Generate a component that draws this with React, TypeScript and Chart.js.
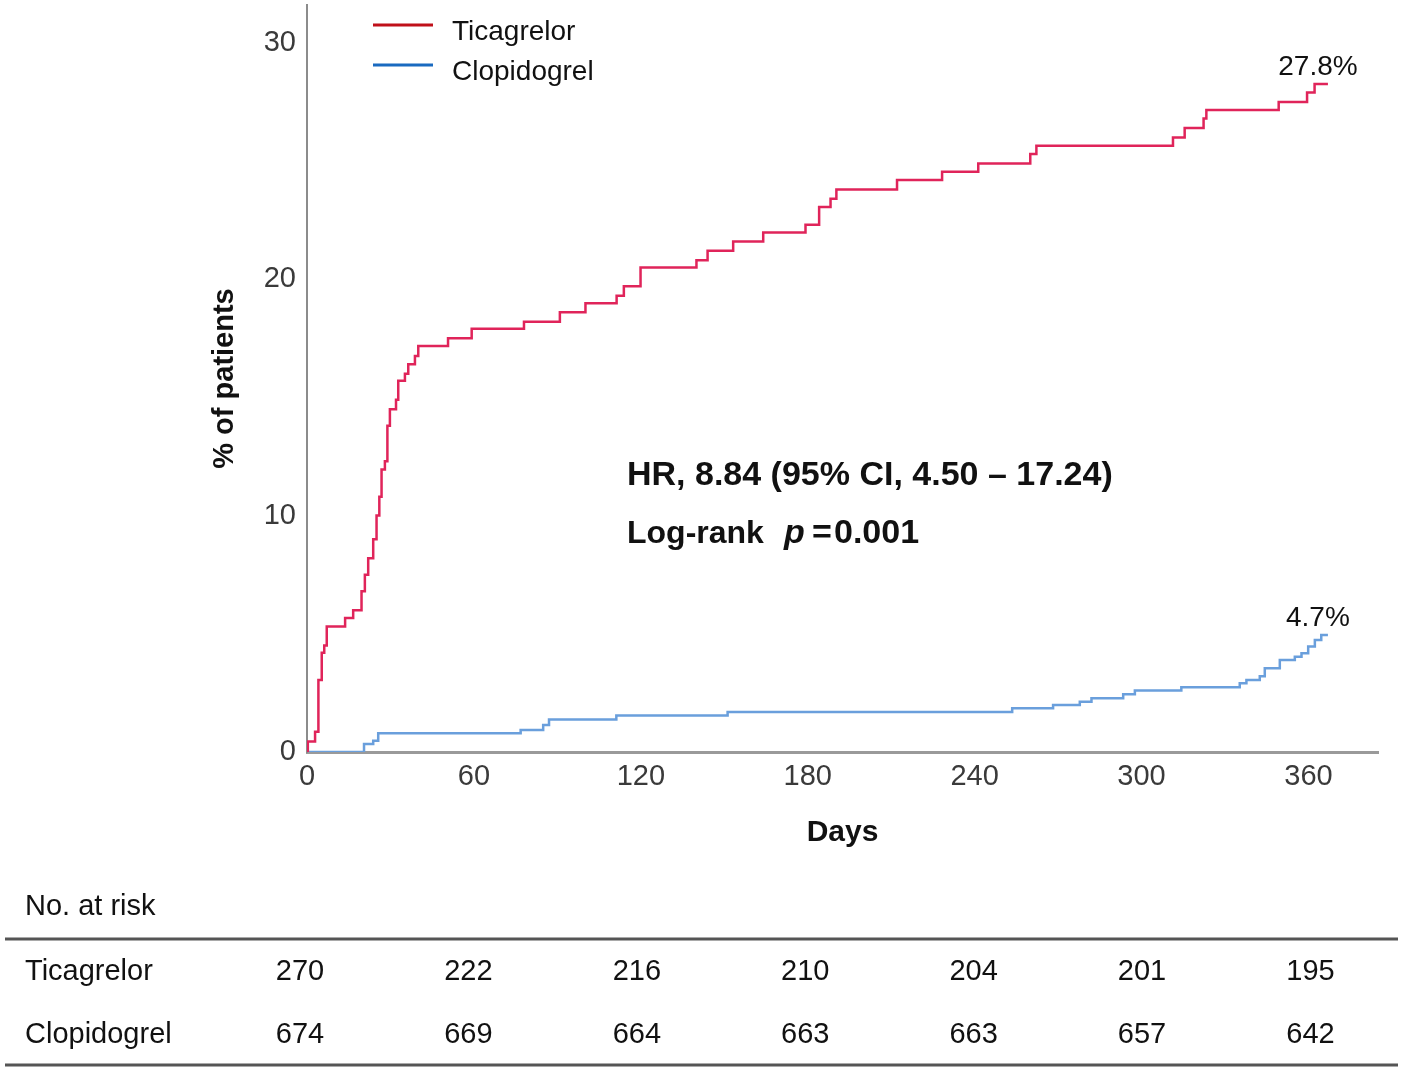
import { useEffect, useRef } from "react";
import { Chart, registerables, type ChartConfiguration, type Plugin } from "chart.js";

Chart.register(...registerables);

// Kaplan-Meier style cumulative incidence
const ticaDays = [
  0, 0.3, 2.9, 4.1, 5.3, 6.2, 7.1, 13.7, 16.6, 19.6, 20.8, 22, 23.8, 25, 26, 26.8, 28, 28.9, 29.8, 32,
  32.8, 35.2, 36.4, 38.8, 40, 50.7, 59.2, 78, 90.9, 100.1, 111.3, 113.9, 119.9, 140, 144, 153.2, 164,
  179.2, 184.1, 188.2, 190.3, 212.1, 228.3, 241.3, 260, 262.2, 311.3, 315.5, 322.3, 323.3, 349.3,
  359.5, 362.2, 367,
];
const ticaPct = [
  0, 0.44, 0.86, 3.05, 4.2, 4.5, 5.31, 5.67, 6.0, 6.8, 7.5, 8.2, 9.0, 10.0, 10.8, 11.95, 12.3, 13.8,
  14.5, 14.9, 15.7, 16.0, 16.4, 16.75, 17.17, 17.5, 17.9, 18.2, 18.6, 18.98, 19.3, 19.7, 20.5, 20.8,
  21.2, 21.6, 21.98, 22.3, 23.06, 23.4, 23.8, 24.2, 24.55, 24.9, 25.3, 25.65, 26.0, 26.4, 26.8, 27.16,
  27.5, 27.9, 28.26, 28.26,
];
const clopiDays = [
  0, 20.5, 23.8, 25.6, 76.8, 84.9, 87, 111.2, 151.2, 253.5, 268.2, 277.8, 282, 293.4, 297.6, 314.3,
  335.3, 337.7, 342.5, 344.3, 349.7, 355.1, 357.5, 359.9, 362.3, 364.6, 367,
];
const clopiPct = [
  0, 0.34, 0.48, 0.79, 0.93, 1.14, 1.38, 1.54, 1.69, 1.85, 1.99, 2.13, 2.27, 2.44, 2.6, 2.74, 2.91,
  3.05, 3.2, 3.54, 3.89, 4.03, 4.18, 4.46, 4.74, 4.95, 4.95,
];

const seriesNames = ["Ticagrelor", "Clopidogrel"];
const endLabels = ["27.8%", "4.7%"];
const riskDays = [0, 60, 120, 180, 240, 300, 360];
const ticaRisk = [270, 222, 216, 210, 204, 201, 195];
const clopiRisk = [674, 669, 664, 663, 663, 657, 642];

const FONT = '"Liberation Sans", Arial, Helvetica, sans-serif';
const curveColors = ["#e0245a", "#6a9fdc"];
const legendColors = ["#c0101a", "#1a6ac0"];

const overlay: Plugin<"line"> = {
  id: "kmOverlay",
  afterDraw(chart) {
    const { ctx } = chart;
    const xs = chart.scales.x;
    const ys = chart.scales.y;
    ctx.save();

    // legend inside the plot
    ctx.lineWidth = 3;
    ctx.font = `28px ${FONT}`;
    ctx.fillStyle = "#111";
    ctx.textBaseline = "alphabetic";
    ctx.textAlign = "left";
    const legY = [25, 65];
    seriesNames.forEach((name, i) => {
      ctx.strokeStyle = legendColors[i];
      ctx.beginPath();
      ctx.moveTo(373, legY[i]);
      ctx.lineTo(433, legY[i]);
      ctx.stroke();
      ctx.fillText(name, 452, legY[i] + 15);
    });

    // end-of-curve labels
    ctx.font = `28px ${FONT}`;
    ctx.textAlign = "center";
    ctx.textBaseline = "middle";
    const ends = [
      [ticaDays[ticaDays.length - 1], ticaPct[ticaPct.length - 1]],
      [clopiDays[clopiDays.length - 1], clopiPct[clopiPct.length - 1]],
    ];
    ends.forEach(([d, p], i) => {
      ctx.fillText(endLabels[i], xs.getPixelForValue(d) - 10, ys.getPixelForValue(p) - 17);
    });

    // statistics
    ctx.textAlign = "left";
    ctx.textBaseline = "alphabetic";
    ctx.font = `bold 34px ${FONT}`;
    ctx.fillText("HR, 8.84 (95% CI, 4.50 \u2013 17.24)", 627, 485);
    ctx.font = `bold 32px ${FONT}`;
    ctx.fillText("Log-rank", 627, 543);
    ctx.font = `italic bold 34px ${FONT}`;
    ctx.fillText("p", 784, 543);
    ctx.font = `bold 34px ${FONT}`;
    ctx.fillText("=", 812, 543);
    ctx.fillText("0.001", 834, 543);

    // number at risk table
    ctx.font = `29px ${FONT}`;
    ctx.fillStyle = "#111";
    ctx.fillText("No. at risk", 25, 915);
    ctx.fillText(seriesNames[0], 25, 980);
    ctx.fillText(seriesNames[1], 25, 1043);
    ctx.strokeStyle = "#555";
    ctx.lineWidth = 3;
    [939, 1065].forEach((ly) => {
      ctx.beginPath();
      ctx.moveTo(5, ly);
      ctx.lineTo(1398, ly);
      ctx.stroke();
    });
    ctx.textAlign = "center";
    const x0 = xs.getPixelForValue(0);
    riskDays.forEach((d, i) => {
      const cx = 300 + (xs.getPixelForValue(d) - x0) * 1.009;
      ctx.fillText(String(ticaRisk[i]), cx, 980);
      ctx.fillText(String(clopiRisk[i]), cx, 1043);
    });

    ctx.restore();
  },
};

function KmChart() {
  const ref = useRef<HTMLCanvasElement | null>(null);
  const chartRef = useRef<Chart | null>(null);

  useEffect(() => {
    const el = ref.current;
    if (!el) return;
    chartRef.current?.destroy();

    const cfg: ChartConfiguration<"line"> = {
      type: "line",
      data: {
        datasets: [
          {
            label: seriesNames[0],
            data: ticaDays.map((d, i) => ({ x: d, y: ticaPct[i] })),
            borderColor: curveColors[0],
            borderWidth: 2.5,
            stepped: "before",
            pointRadius: 0,
            fill: false,
          },
          {
            label: seriesNames[1],
            data: clopiDays.map((d, i) => ({ x: d, y: clopiPct[i] })),
            borderColor: curveColors[1],
            borderWidth: 2.5,
            stepped: "before",
            pointRadius: 0,
            fill: false,
          },
        ],
      },
      options: {
        responsive: false,
        animation: false,
        layout: { padding: { top: 5, right: 27, bottom: 209, left: 0 } },
        plugins: { legend: { display: false }, tooltip: { enabled: false } },
        scales: {
          x: {
            type: "linear",
            min: 0,
            max: 385,
            grid: { display: false, drawTicks: false },
            border: { display: true, color: "#9a9a9a", width: 3 },
            ticks: {
              stepSize: 60,
              includeBounds: false,
              padding: 8,
              color: "#3a3a3a",
              font: { family: FONT, size: 29 },
            },
            title: {
              display: true,
              text: "Days",
              color: "#111",
              font: { family: FONT, size: 30, weight: "bold" },
              padding: { top: 0, bottom: 11 },
            },
            afterFit: (s) => {
              s.height = 110;
            },
          },
          y: {
            min: 0,
            max: 31.6,
            grid: { display: false, drawTicks: false },
            border: { display: true, color: "#8c8c8c", width: 2 },
            ticks: {
              stepSize: 10,
              includeBounds: false,
              padding: 11,
              color: "#3a3a3a",
              font: { family: FONT, size: 29 },
            },
            title: {
              display: true,
              text: "% of patients",
              color: "#111",
              font: { family: FONT, size: 29, weight: "bold" },
              padding: { top: 208, bottom: 0 },
            },
            afterFit: (s) => {
              s.width = 307;
              s.paddingTop = 0;
            },
          },
        },
      },
      plugins: [overlay],
    };

    chartRef.current = new Chart(el, cfg);
    return () => {
      chartRef.current?.destroy();
      chartRef.current = null;
    };
  }, []);

  return <canvas ref={ref} width={1405} height={1071} />;
}

export default function App() {
  return (
    <div style={{ position: "absolute", left: 0, top: 0, width: 1405, height: 1071, background: "#fff" }}>
      <KmChart />
    </div>
  );
}
